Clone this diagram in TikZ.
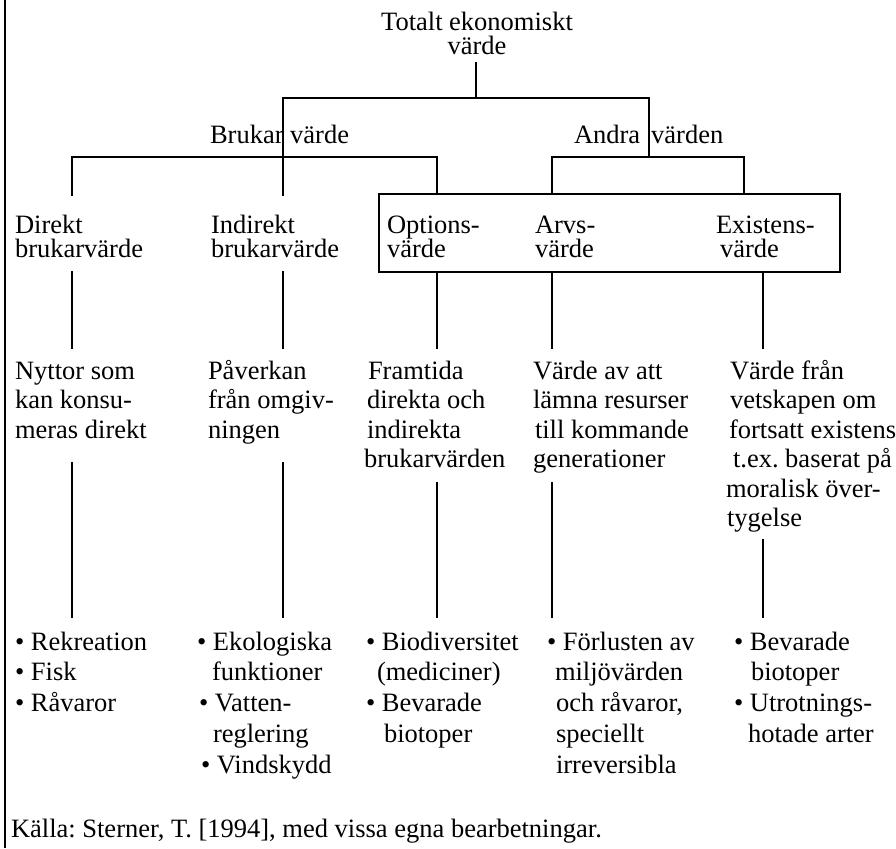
\documentclass[tikz,border=0pt]{standalone}
\usepackage{fontspec}
\setmainfont{Liberation Serif}
\frenchspacing
\newcommand{\blkL}[2]{\vtop{\baselineskip=#1\lineskiplimit=-1000pt\lineskip=0pt\halign{##\hfil\cr#2\crcr}}}
\newcommand{\blkC}[2]{\vtop{\baselineskip=#1\lineskiplimit=-1000pt\lineskip=0pt\halign{\hfil##\hfil\cr#2\crcr}}}
\newcommand{\ind}[1]{\hspace*{#1pt}}
\newcommand{\bul}{\textbullet\ }
\tikzset{
  every node/.style={inner sep=0pt, outer sep=0pt, font=\fontsize{26.5}{29}\selectfont},
  lbl/.style={anchor=base west},
  ln/.style={line width=2pt, line cap=rect},
}
\begin{document}
\begin{tikzpicture}[x=1pt,y=-1pt]
\useasboundingbox (0,0) rectangle (896,848);
% left border
\coordinate (brdT) at (5,0);
\coordinate (brdB) at (5,848);
\draw[line width=2pt] (brdT) -- (brdB);

% texts
\node[anchor=base] (title) at (477,31) {\blkC{23.5pt}{Totalt ekonomiskt\cr värde}};
\node[lbl] (bruk) at (210,143) {Brukar värde};
\node[lbl] (andra) at (574,143) {Andra\hspace{11pt}värden};

\node[lbl] (dir) at (15,233) {\blkL{24pt}{Direkt\cr brukarvärde}};
\node[lbl] (indir) at (211,233) {\blkL{24pt}{Indirekt\cr brukarvärde}};
\node[lbl] (opt) at (387,233) {\blkL{24pt}{Options-\cr värde}};
\node[lbl] (arv) at (535,233) {\blkL{24pt}{Arvs-\cr värde}};
\node[lbl] (exi) at (716,233) {\blkL{24pt}{Existens-\cr \ind{4}värde}};
\node[draw, line width=2pt, anchor=north west, minimum width=461pt, minimum height=78pt] (box) at (379,194) {};

\node[lbl] (nyt) at (15,379) {\blkL{29.5pt}{Nyttor som\cr kan konsu-\cr meras direkt}};
\node[lbl] (pav) at (208,379) {\blkL{29.5pt}{Påverkan\cr från omgiv-\cr ningen}};
\node[lbl] (fram) at (364,379) {\blkL{29.5pt}{\ind{4}Framtida\cr \ind{3}direkta och\cr \ind{3}indirekta\cr brukarvärden}};
\node[lbl] (arvt) at (533,379) {\blkL{29.5pt}{Värde av att\cr lämna resurser\cr \ind{2}till kommande\cr generationer}};
\node[lbl] (exit) at (726,379) {\blkL{29.5pt}{\ind{4}Värde från\cr \ind{4}vetskapen om\cr \ind{3}fortsatt existens\cr \ind{7}t.ex. baserat på\cr moralisk över-\cr \ind{1}tygelse}};

\node[lbl] (b1) at (15,650) {\blkL{30.9pt}{\bul Rekreation\cr \bul Fisk\cr \bul Råvaror}};
\node[lbl] (b2) at (197,650) {\blkL{30.9pt}{\bul Ekologiska\cr \ind{15}funktioner\cr \ind{2}\bul Vatten-\cr \ind{16}reglering\cr \ind{4}\bul Vindskydd}};
\node[lbl] (b3) at (366,650) {\blkL{30.9pt}{\bul Biodiversitet\cr \ind{11}(mediciner)\cr \bul Bevarade\cr \ind{18}biotoper}};
\node[lbl] (b4) at (547,650) {\blkL{30.9pt}{\bul Förlusten av\cr \ind{8}miljövärden\cr \ind{9}och råvaror,\cr \ind{9}speciellt\cr \ind{9}irreversibla}};
\node[lbl] (b5) at (734,650) {\blkL{30.9pt}{\bul Bevarade\cr \ind{17}biotoper\cr \bul Utrotnings-\cr \ind{14}hotade arter}};

\node[lbl] (src) at (11,837) {Källa: Sterner, T. [1994], med vissa egna bearbetningar.};

% tree coordinates
\coordinate (tA) at (476,63);
\coordinate (tB) at (476,98);
\coordinate (hL) at (283,98);
\coordinate (hR) at (649,98);
\coordinate (bL) at (283,195);
\coordinate (aB) at (649,157);
\coordinate (l1) at (72,157);
\coordinate (l1b) at (72,195);
\coordinate (l3) at (437,157);
\coordinate (l3b) at (437,194);
\coordinate (r1) at (552,157);
\coordinate (r1b) at (552,194);
\coordinate (r2) at (744,157);
\coordinate (r2b) at (744,194);

\draw[ln] (tA) -- (tB);
\draw[ln] (hL) -- (hR);
\draw[ln] (hL) -- (bL);
\draw[ln] (hR) -- (aB);
\draw[ln] (l1) -- (l3);
\draw[ln] (r1) -- (r2);
\draw[ln] (l1) -- (l1b);
\draw[ln] (l3) -- (l3b);
\draw[ln] (r1) -- (r1b);
\draw[ln] (r2) -- (r2b);

% level 2 -> level 3
\foreach \n/\x in {a/72,b/283,c/437,d/552,e/763}{
  \coordinate (u\n) at (\x,272);
  \coordinate (v\n) at (\x,348);
  \draw[ln] (u\n) -- (v\n);
}
% level 3 -> bullets
\foreach \n/\x/\y in {a/72/463,b/283/463,c/437/483,d/552/483,e/763/540}{
  \coordinate (p\n) at (\x,\y);
  \coordinate (q\n) at (\x,617);
  \draw[ln] (p\n) -- (q\n);
}
\end{tikzpicture}
\end{document}
